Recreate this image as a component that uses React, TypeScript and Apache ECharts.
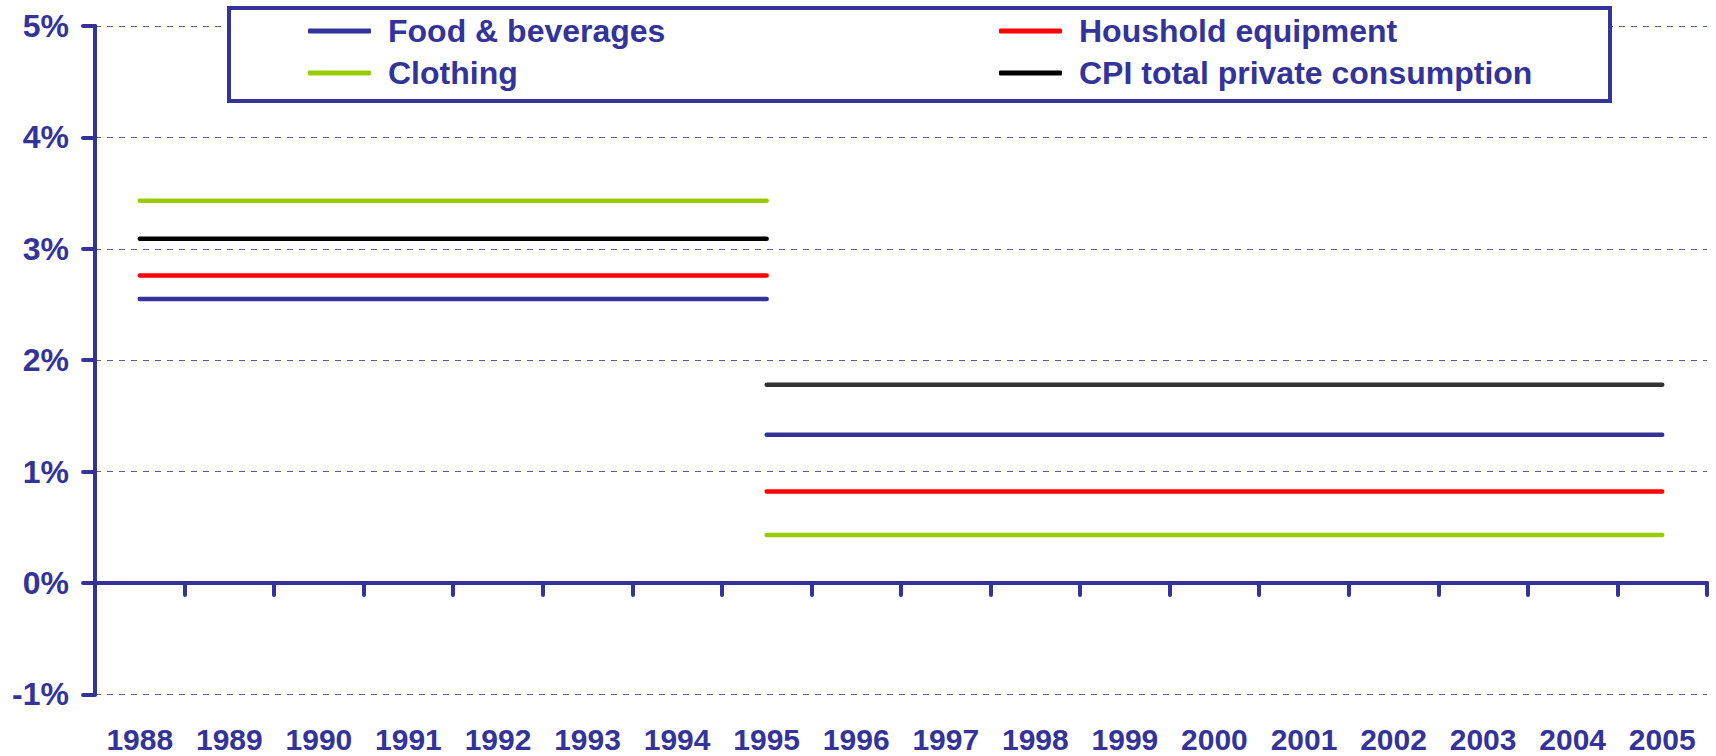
import React, { useEffect, useRef } from "react";
import * as echarts from "echarts";

const years = ["1988","1989","1990","1991","1992","1993","1994","1995","1996","1997","1998","1999","2000","2001","2002","2003","2004","2005"];
const seriesNames = ["Food & beverages", "Houshold equipment", "Clothing", "CPI total private consumption"];
const colorsPeriod1 = ["#333399", "#FF0000", "#99CC00", "#000000"];
const colorsPeriod2 = ["#333399", "#FF0000", "#99CC00", "#333333"];
// average annual change (%) for 1988-1995 and 1995-2005
const period1Values = [2.55, 2.76, 3.43, 3.09];
const period2Values = [1.33, 0.82, 0.43, 1.78];
const period1Range = ["1988", "1995"];
const period2Range = ["1995", "2005"];
const yTicks = { min: -1, max: 5, interval: 1 };

const BLUE = "#333399";
const FONT = 'Arial, "Liberation Sans", Helvetica, sans-serif';

function buildSegment(value: number, range: string[]) {
  const a = years.indexOf(range[0]);
  const b = years.indexOf(range[1]);
  return years.map((_, i) => (i >= a && i <= b ? value : null));
}

export default function App() {
  const ref = useRef<HTMLDivElement>(null);
  useEffect(() => {
    if (!ref.current) return;
    const chart = echarts.init(ref.current, null, { renderer: "svg" });
    const series: any[] = [];
    seriesNames.forEach((name, k) => {
      series.push({
        name,
        type: "line",
        xAxisIndex: 0,
        data: buildSegment(period1Values[k], period1Range),
        symbol: "none",
        connectNulls: false,
        lineStyle: { color: colorsPeriod1[k], width: 4.5, cap: "round" },
        itemStyle: { color: colorsPeriod1[k] },
        z: 5,
      });
      series.push({
        name,
        type: "line",
        xAxisIndex: 0,
        data: buildSegment(period2Values[k], period2Range),
        symbol: "none",
        connectNulls: false,
        lineStyle: { color: colorsPeriod2[k], width: 4.5, cap: "round" },
        itemStyle: { color: colorsPeriod2[k] },
        z: 5,
      });
    });
    const legendBase = {
      orient: "vertical",
      top: 13,
      padding: 0,
      itemWidth: 63,
      itemHeight: 5,
      itemGap: 6,
      icon: "roundRect",
      selectedMode: false,
      textStyle: {
        color: BLUE,
        fontSize: 32,
        fontWeight: "bold",
        fontFamily: FONT,
        lineHeight: 36,
        padding: [0, 0, 0, 12],
      },
      z: 6,
    };
    chart.setOption({
      animation: false,
      backgroundColor: "#ffffff",
      grid: {
        left: 95,
        right: 9,
        top: 26,
        bottom: 61.7,
        containLabel: false,
        outerBoundsMode: "none",
      },
      legend: [
        { ...legendBase, left: 308, data: [seriesNames[0], seriesNames[2]] },
        { ...legendBase, left: 999, data: [seriesNames[1], seriesNames[3]] },
      ],
      graphic: [
        {
          type: "rect",
          z: 3,
          shape: { x: 229, y: 8, width: 1381, height: 93 },
          style: { fill: "#ffffff", stroke: BLUE, lineWidth: 4 },
        },
      ],
      xAxis: [
        {
          type: "category",
          data: years,
          position: "bottom",
          boundaryGap: true,
          axisLine: { show: true, onZero: true, lineStyle: { color: BLUE, width: 4 } },
          axisTick: { show: true, length: 12, lineStyle: { color: BLUE, width: 4, cap: "round" } },
          axisLabel: { show: false },
          splitLine: { show: false },
        },
        {
          type: "category",
          data: years,
          position: "bottom",
          boundaryGap: true,
          axisLine: { show: false, onZero: false },
          axisTick: { show: false },
          axisLabel: {
            show: true,
            margin: 33,
            color: BLUE,
            fontSize: 30,
            lineHeight: 24,
            fontWeight: "bold",
            fontFamily: FONT,
            interval: 0,
          },
          splitLine: { show: false },
        },
      ],
      yAxis: {
        type: "value",
        min: yTicks.min,
        max: yTicks.max,
        interval: yTicks.interval,
        axisLine: { show: true, onZero: false, lineStyle: { color: BLUE, width: 4 } },
        axisTick: { show: true, length: 12, lineStyle: { color: BLUE, width: 4, cap: "round" } },
        axisLabel: {
          formatter: "{value}%",
          margin: 26,
          color: BLUE,
          fontSize: 32,
          fontWeight: "bold",
          fontFamily: FONT,
        },
        splitLine: {
          show: true,
          lineStyle: { color: "#5A5AB0", width: 1, type: [6, 6] },
        },
      },
      series,
    });
    return () => chart.dispose();
  }, []);
  return (
    <div
      ref={ref}
      style={{ position: "fixed", left: 0, top: 0, width: 1716, height: 756, background: "#fff" }}
    />
  );
}
